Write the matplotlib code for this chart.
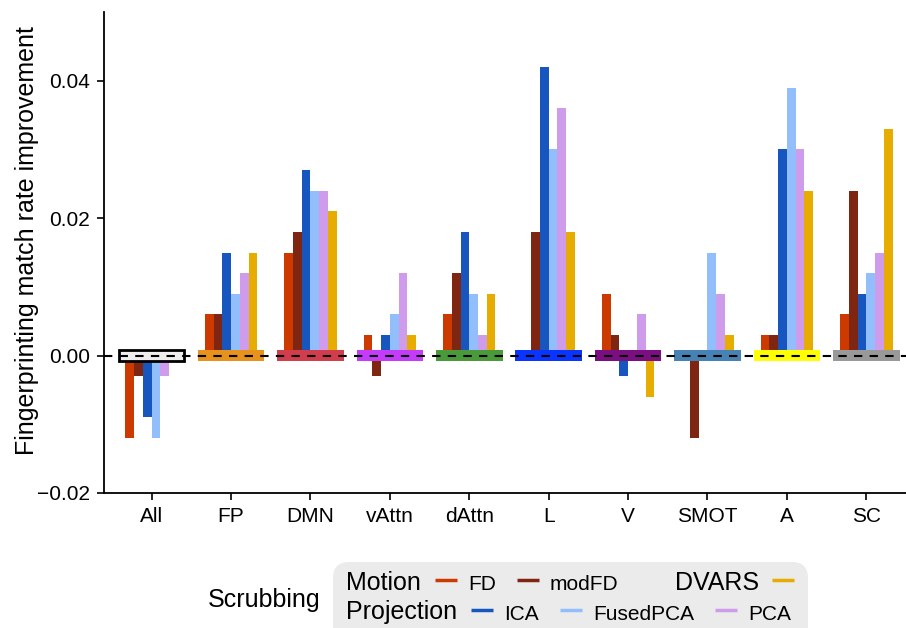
import numpy as np
import matplotlib.pyplot as plt
from matplotlib.patches import Rectangle, FancyBboxPatch
from matplotlib.lines import Line2D

plt.rcParams['font.family'] = ['Liberation Sans', 'DejaVu Sans']

# networks (x categories) and the colour of their marker box on the zero line
networks = ['All', 'FP', 'DMN', 'vAttn', 'dAttn', 'L', 'V', 'SMOT', 'A', 'SC']
network_colors = ['#EEEEEE', '#E8921E', '#D13D4D', '#C43CFA', '#4A9A3C',
                  '#0A34FF', '#7B0F82', '#4682B4', '#FFFF00', '#999999']

# scrubbing methods
methods = ['FD', 'modFD', 'ICA', 'FusedPCA', 'PCA', 'DVARS']
method_colors = ['#CC3A00', '#7F2612', '#1756BE', '#92BFFC', '#CE9CEB', '#E6AC00']

fd = [-0.012, 0.006, 0.015, 0.003, 0.006, 0.0, 0.009, 0.0, 0.003, 0.006]
modfd = [-0.003, 0.006, 0.018, -0.003, 0.012, 0.018, 0.003, -0.012, 0.003, 0.024]
ica = [-0.009, 0.015, 0.027, 0.003, 0.018, 0.042, -0.003, 0.0, 0.030, 0.009]
fusedpca = [-0.012, 0.009, 0.024, 0.006, 0.009, 0.030, 0.0, 0.015, 0.039, 0.012]
pca = [-0.003, 0.012, 0.024, 0.012, 0.003, 0.036, 0.006, 0.009, 0.030, 0.015]
dvars = [0.0, 0.015, 0.021, 0.003, 0.009, 0.018, -0.006, 0.003, 0.024, 0.033]

yticks = [-0.02, 0.0, 0.02, 0.04]
ytick_labels = ['\u22120.02', '0.00', '0.02', '0.04']

W, H = 906, 628
fig = plt.figure(figsize=(W / 100, H / 100), dpi=100)
ax = fig.add_axes([104 / W, (H - 493) / H, (W - 104) / W, (493 - 12) / H])

x = np.arange(len(networks))
bw = 0.11
series = [fd, modfd, ica, fusedpca, pca, dvars]
for i, (vals, col) in enumerate(zip(series, method_colors)):
    ax.bar(x + (i - 2.5) * bw, vals, width=bw, color=col, zorder=2, linewidth=0)

# network boxes over the zero line
bh = 0.00075
for xi, col in zip(x, network_colors):
    if col == '#EEEEEE':
        rect = Rectangle((xi - 0.405, -bh), 0.81, 2 * bh, facecolor=col,
                         edgecolor='black', linewidth=2.0, zorder=3)
    else:
        rect = Rectangle((xi - 0.42, -bh), 0.84, 2 * bh, facecolor=col,
                         edgecolor='none', zorder=3)
    ax.add_patch(rect)

ax.axhline(0, color='black', linestyle=(0, (4, 3.5)), linewidth=1.5, zorder=4)

ax.set_xlim(-0.6, 9.5)
ax.set_ylim(-0.02, 0.05)
ax.set_xticks(x)
ax.set_xticklabels(networks)
ax.set_yticks(yticks)
ax.set_yticklabels(ytick_labels)
ax.tick_params(axis='both', labelsize=15, length=5, width=1.2, color='black', labelcolor='black')
ax.tick_params(axis='x', pad=5)
ax.tick_params(axis='y', pad=5)
ax.set_ylabel('Fingerprinting match rate improvement', fontsize=18)
ax.yaxis.set_label_coords((39 - 104) / 802, (493 - 240.5) / 481)
for s in ['top', 'right']:
    ax.spines[s].set_visible(False)
for s in ['left', 'bottom']:
    ax.spines[s].set_linewidth(1.3)

# legend drawn by hand in pixel coordinates (ggplot style two-row legend)
lax = fig.add_axes([0, 0, 1, 1], zorder=5)
lax.set_xlim(0, W)
lax.set_ylim(H, 0)
lax.axis('off')
lax.add_patch(FancyBboxPatch((333, 562), 475, 90, boxstyle='round,pad=0,rounding_size=16',
                             facecolor='#EBEBEB', edgecolor='none'))
fs = 18
lfs = 15
lax.text(208, 607, 'Scrubbing', fontsize=fs, va='baseline', ha='left')
lax.text(346, 590, 'Motion', fontsize=fs, va='baseline', ha='left')
lax.text(346, 619, 'Projection', fontsize=fs, va='baseline', ha='left')

def key(x0, y0, col, label=None):
    lax.add_line(Line2D([x0, x0 + 22], [y0, y0], color=col, linewidth=2.5,
                        solid_capstyle='butt'))
    if label:
        lax.text(x0 + 33, y0 + 10, label, fontsize=lfs, va='baseline', ha='left')

key(435, 580, method_colors[0], 'FD')
key(517, 580, method_colors[1], 'modFD')
lax.text(675, 590, 'DVARS', fontsize=fs, va='baseline', ha='left')
key(772, 580, method_colors[5])
key(471, 610, method_colors[2], 'ICA')
key(560, 610, method_colors[3], 'FusedPCA')
key(715, 610, method_colors[4], 'PCA')

fig.savefig('out.png', dpi=100)
